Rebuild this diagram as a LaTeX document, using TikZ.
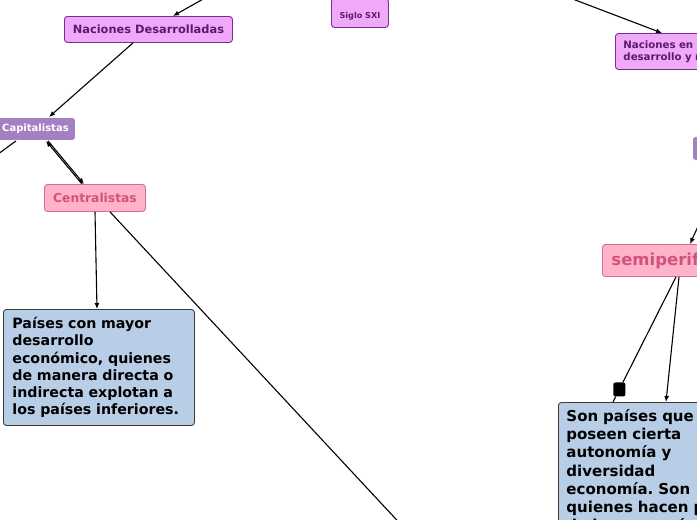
\documentclass[tikz,border=0pt]{standalone}
\usepackage{fontspec}
\setmainfont{DejaVu Sans}
\usetikzlibrary{arrows.meta,calc}
\definecolor{violetfill}{HTML}{F0A8F8}
\definecolor{violetdraw}{HTML}{7B2D8E}
\definecolor{violettext}{HTML}{5A1A6E}
\definecolor{purplefill}{HTML}{A47FC2}
\definecolor{pinkfill}{HTML}{FFB3C9}
\definecolor{pinkdraw}{HTML}{DA6A8E}
\definecolor{pinktext}{HTML}{D0527E}
\definecolor{bluefill}{HTML}{B8CDE6}
\definecolor{bluedraw}{HTML}{3A3A3A}
\frenchspacing
\begin{document}
\begin{tikzpicture}[x=1pt,y=-1pt,
  box/.style={rounded corners=3pt, line width=0.9pt, inner sep=0pt, anchor=north west, font=\bfseries},
  viol/.style={box, fill=violetfill, draw=violetdraw, text=violettext},
  purp/.style={box, fill=purplefill, draw=white, text=white},
  pinkbox/.style={box, fill=pinkfill, draw=pinkdraw, text=pinktext},
  bluebox/.style={box, fill=bluefill, draw=bluedraw, text=black, align=left},
  conn/.style={line width=1.1pt, black},
  arr/.style={conn, -{Latex[length=6pt,width=5pt]}},
]
\useasboundingbox (0,0) rectangle (697,520);
\clip (0,0) rectangle (697,520);

% nodes
\node[viol, minimum width=57pt, minimum height=29pt, font=\bfseries\fontsize{8.1}{10}\selectfont] (sig) at (331,-2) {\raisebox{-5.5pt}[0pt][0pt]{Siglo SXI}};
\node[viol, minimum width=168pt, minimum height=26pt, font=\bfseries\fontsize{11.4}{13}\selectfont] (nd) at (64,16) {Naciones Desarrolladas};
\node[purp, minimum width=80pt, minimum height=23pt, font=\bfseries\fontsize{10}{12}\selectfont] (cap) at (-5,117) {Capitalistas};
\node[pinkbox, minimum width=101pt, minimum height=27pt, font=\bfseries\fontsize{12.3}{14}\selectfont] (cen) at (44,184) {Centralistas};
\node[bluebox, minimum width=191pt, minimum height=116pt, text width=173pt, inner xsep=9pt, font=\bfseries\fontsize{14.2}{17.3}\selectfont] (pa) at (3,309)
  {Países con mayor\\desarrollo\\económico, quienes\\de manera directa o\\indirecta explotan a\\los países inferiores.};

\node[viol, align=left, minimum height=36pt, text width=200pt, inner xsep=8pt, font=\bfseries\fontsize{10.2}{12}\selectfont] (nep) at (615,33)
  {Naciones en proceso de\\desarrollo y no desarrolladas};
\node[purp, minimum width=60pt, minimum height=24pt] (per) at (692,136) {};
\node[pinkbox, align=left, minimum height=32pt, text width=180pt, inner xsep=9pt, font=\bfseries\fontsize{16.5}{19}\selectfont] (semi) at (602,244) {semiperiféricos};
\node[bluebox, text width=200pt, inner xsep=8pt, inner ysep=7pt, font=\bfseries\fontsize{15}{18.2}\selectfont] (sp) at (558,402)
  {Son países que\\poseen cierta\\autonomía y\\diversidad\\economía. Son\\quienes hacen parte\\de la economía};

% free ends
\coordinate (t1) at (205,-2);
\coordinate (t2) at (570,-2);
\coordinate (t3) at (705,211);
\coordinate (c3) at (-10,160);
\coordinate (c7) at (420,545);

% connectors
\draw[arr] (t1) -- ([xshift=109pt]nd.north west);
\draw[arr] ([xshift=69pt]nd.south west) -- ([xshift=54pt]cap.north west);
\draw[conn] ([xshift=21pt]cap.south west) -- (c3);
\draw[arr] ([xshift=38pt]cen.north west) -- ([xshift=51pt]cap.south west);
\draw[arr] ([xshift=53pt]cap.south west) -- ([xshift=40pt]cen.north west);
\draw[arr] ([xshift=51pt]cen.south west) -- ([xshift=94pt]pa.north west);
\draw[conn] ([xshift=66pt]cen.south west) -- (c7);
\draw[arr] (t2) -- ([xshift=47pt]nep.north west);
\draw[arr] (t3) -- ([xshift=88pt]semi.north west);

\coordinate (s1) at ([xshift=74pt]semi.south west);
\coordinate (s2) at ([xshift=55pt]sp.north west);
\node[fill=black, rounded corners=2pt, minimum width=12pt, minimum height=14pt, inner sep=0pt] (sq) at ($(s1)!0.9!(s2)$) {};
\draw[conn] (s1) -- (sq);
\draw[conn] (sq) -- (s2);
\draw[arr] ([xshift=77pt]semi.south west) -- ([xshift=108pt]sp.north west);
\end{tikzpicture}
\end{document}
